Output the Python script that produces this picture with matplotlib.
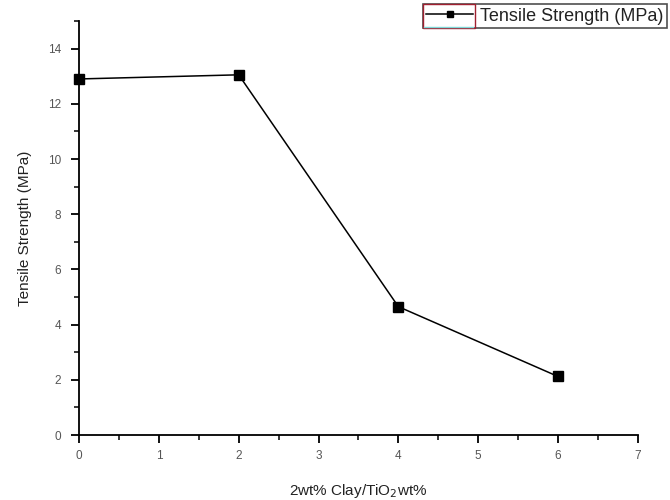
import matplotlib
matplotlib.use("Agg")
import matplotlib.pyplot as plt
from matplotlib.ticker import MultipleLocator
from matplotlib.patches import Rectangle

# data
clay_wt = [0, 2, 4, 6]
tensile = [12.9, 13.05, 4.65, 2.12]
series_name = "Tensile Strength (MPa)"

plt.rcParams['font.family'] = ['Liberation Sans', 'DejaVu Sans']

fig = plt.figure(figsize=(6.7, 5), dpi=100)
ax = fig.add_axes([0.118, 0.13, 0.834, 0.828])

ax.plot(clay_wt, tensile, color="black", linewidth=1.1, marker="s",
        markersize=7, markerfacecolor="black", markeredgecolor="black",
        label=series_name, clip_on=False, zorder=3)

ax.set_xlim(0, 7)
ax.set_ylim(0, 15)
ax.xaxis.set_major_locator(MultipleLocator(1))
ax.xaxis.set_minor_locator(MultipleLocator(0.5))
ax.yaxis.set_major_locator(MultipleLocator(2))
ax.yaxis.set_minor_locator(MultipleLocator(1))

ax.spines["top"].set_visible(False)
ax.spines["right"].set_visible(False)
ax.spines["left"].set_linewidth(1.3)
ax.spines["bottom"].set_linewidth(1.3)

ax.tick_params(which="major", direction="out", length=6, width=1.3,
               labelsize=8.5, labelcolor="#555555", pad=5)
ax.tick_params(which="minor", direction="out", length=3.5, width=1.1)
ax.tick_params(axis="y", which="major", pad=7)

ax.set_xlabel("2wt% Clay/TiO$_2$wt%", fontsize=11, color="#222222", labelpad=14)
ax.set_ylabel(series_name, fontsize=11, color="#222222", labelpad=11)

leg = fig.legend(loc="upper right", bbox_to_anchor=(0.996, 0.992),
                 fontsize=13, frameon=True, fancybox=False, handlelength=2.6,
                 handletextpad=0.4, borderpad=0.2, borderaxespad=0,
                 markerscale=0.6)
leg.get_frame().set_edgecolor("#222222")
leg.get_frame().set_linewidth(1.2)
for t in leg.get_texts():
    t.set_color("#222222")

# the little red box around the legend handle, as in the original
fig.canvas.draw()
bb = leg.get_window_extent().transformed(fig.transFigure.inverted())
box_w = 52 / 670
fig.add_artist(Rectangle((bb.x0, bb.y0), box_w, bb.height,
                         transform=fig.transFigure, fill=False,
                         edgecolor="#a02030", linewidth=1.0, zorder=10))
fig.add_artist(plt.Line2D([bb.x0 + 0.002, bb.x0 + box_w - 0.002],
                          [bb.y0 + 0.003, bb.y0 + 0.003],
                          transform=fig.transFigure, color="#7fd8d8",
                          linewidth=1.0, zorder=10))

fig.savefig("out.png", dpi=100)
